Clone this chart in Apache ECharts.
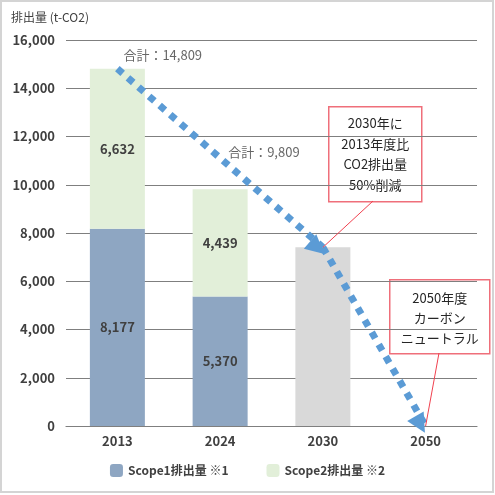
<!DOCTYPE html>
<html>
<head>
<meta charset="utf-8">
<script src="https://cdn.jsdelivr.net/npm/echarts@6/dist/echarts.min.js"></script>
<style>
  html, body { margin: 0; padding: 0; background: #fff; }
  #frame { width: 494px; height: 493px; border: 2px solid #d4d4d4; box-sizing: border-box; }
  #chart { width: 495px; height: 495px; position: absolute; left: 0; top: 0; }
</style>
</head>
<body>
<div id="frame"></div>
<div id="chart"></div>
<script>
var years = ['2013', '2024', '2030', '2050']
var scope1 = [8177, 5370, '-', '-']
var scope2 = [6632, 4439, '-', '-']
var target2030 = ['-', '-', 7405, '-']
var totals = [14809, 9809, '-', '-']
var yTicks = [0, 2000, 4000, 6000, 8000, 10000, 12000, 14000, 16000]

var font = '"Noto Sans CJK JP", "Noto Sans", sans-serif'
var txt = '#404040'
var blue = '#5b9bd5'
var red = '#f0414f'

var myChart = echarts.init(document.getElementById('chart'), null, { renderer: 'canvas' })

var option = {
  backgroundColor: 'transparent',
  textStyle: { fontFamily: font },
  animation: false,
  title: {
    text: '排出量 (t-CO2)',
    left: 6,
    top: 6,
    textStyle: { fontFamily: font, fontSize: 12, fontWeight: 'normal', color: txt }
  },
  legend: {
    bottom: 13,
    left: 'center',
    itemWidth: 13,
    itemHeight: 13,
    itemGap: 38,
    data: ['Scope1排出量 ※1', 'Scope2排出量 ※2'],
    textStyle: { fontFamily: font, fontSize: 12, fontWeight: 'bold', color: txt }
  },
  grid: { left: 66, right: 18, top: 40, bottom: 69 },
  xAxis: {
    type: 'category',
    data: years,
    axisTick: { show: false },
    axisLine: { lineStyle: { color: '#7f7f7f', width: 1.2 } },
    axisLabel: { margin: 9, fontFamily: font, fontSize: 13, fontWeight: 'bold', color: txt }
  },
  yAxis: {
    type: 'value',
    min: yTicks[0],
    max: yTicks[yTicks.length - 1],
    interval: 2000,
    axisLine: { show: false },
    axisTick: { show: false },
    axisLabel: {
      margin: 11,
      fontFamily: font, fontSize: 13, fontWeight: 'bold', color: txt,
      formatter: function (v) { return v.toLocaleString('en-US') }
    },
    splitLine: { lineStyle: { color: '#7f7f7f', width: 1.2 } }
  },
  series: [
    {
      name: 'Scope1排出量 ※1',
      type: 'bar',
      stack: 'total',
      barWidth: 55,
      itemStyle: { color: '#8ea6c2' },
      label: {
        show: true, position: 'inside',
        fontFamily: font, fontSize: 13, fontWeight: 'bold', color: txt,
        formatter: function (p) { return p.value.toLocaleString('en-US') }
      },
      data: scope1
    },
    {
      name: 'Scope2排出量 ※2',
      type: 'bar',
      stack: 'total',
      barWidth: 55,
      itemStyle: { color: '#e2efd9' },
      label: {
        show: true, position: 'inside',
        fontFamily: font, fontSize: 13, fontWeight: 'bold', color: txt,
        formatter: function (p) { return p.value.toLocaleString('en-US') }
      },
      data: scope2
    },
    {
      name: '2030目標',
      type: 'bar',
      stack: 'total',
      barWidth: 55,
      itemStyle: { color: '#d9d9d9' },
      data: target2030
    },
    {
      name: '合計',
      type: 'scatter',
      symbolSize: 0,
      z: 10,
      label: {
        show: true,
        position: 'right',
        distance: 0,
        fontFamily: font, fontSize: 13, color: txt,
        formatter: function (p) { return '合計：' + p.value.toLocaleString('en-US') }
      },
      data: [
        { value: totals[0], label: { offset: [6, -14] } },
        { value: totals[1], label: { offset: [8, -37] } },
        totals[2], totals[3]
      ],
      markLine: {
        silent: true,
        symbol: ['none', 'triangle'],
        symbolSize: 19,
        symbolOffset: [0, 4],
        label: { show: false },
        lineStyle: { color: blue, width: 7, type: [7, 7] },
        data: [
          [{ coord: [years[0], totals[0]] }, { coord: [years[2], target2030[2]] }],
          [{ coord: [years[2], target2030[2]] }, { coord: [years[3], 0] }]
        ]
      }
    },
    {
      name: '注記',
      type: 'line',
      data: [],
      z: 11,
      markLine: {
        silent: true,
        symbol: 'none',
        label: { show: false },
        lineStyle: { color: red, width: 1, type: 'solid' },
        data: [
          [{ x: 373, y: 201 }, { coord: [years[2], target2030[2]] }],
          [{ x: 439, y: 353 }, { coord: [years[3], 0] }]
        ]
      }
    }
  ],
  graphic: [
    {
      type: 'group',
      left: 328, top: 106,
      children: [
        { type: 'rect', shape: { x: 0, y: 0, width: 93, height: 95 },
          style: { fill: '#fff', stroke: '#ef6f7a', lineWidth: 1.5 } },
        { type: 'text', x: 46.5, y: 47.5,
          style: { text: '2030年に\n2013年度比\nCO2排出量\n50%削減', align: 'center', verticalAlign: 'middle',
            font: '13px ' + font, lineHeight: 20.5, fill: '#262626' } }
      ]
    },
    {
      type: 'group',
      left: 389, top: 279,
      children: [
        { type: 'rect', shape: { x: 0, y: 0, width: 100, height: 74 },
          style: { fill: '#fff', stroke: '#ef6f7a', lineWidth: 1.5 } },
        { type: 'text', x: 50, y: 38,
          style: { text: '2050年度\nカーボン\nニュートラル', align: 'center', verticalAlign: 'middle',
            font: '13px ' + font, lineHeight: 20, fill: '#262626' } }
      ]
    }
  ]
}

myChart.setOption(option)
window.addEventListener('resize', function () {
  myChart.resize()
})
</script>
</body>
</html>
